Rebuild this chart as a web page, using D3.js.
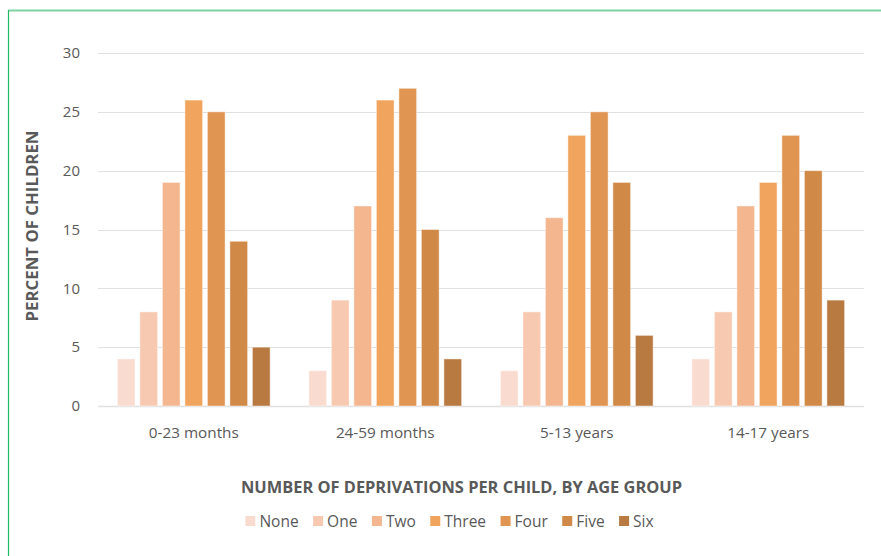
<!DOCTYPE html>
<html>
<head>
<meta charset="utf-8">
<script src="https://cdn.jsdelivr.net/npm/d3@7"></script>
<style>
  html, body { margin: 0; padding: 0; background: #fff; }
  svg { display: block; font-family: "Open Sans", "Noto Sans", sans-serif; }
</style>
</head>
<body>
<svg id="chart" width="881" height="556"></svg>
<script>
// Age groups along the x axis
const ageGroups = ["0-23 months", "24-59 months", "5-13 years", "14-17 years"];
// Number of deprivations (one bar per count inside each group)
const deprivations = ["None", "One", "Two", "Three", "Four", "Five", "Six"];
// Percent of children, one array per deprivation count, in age-group order
const noneValues  = [4, 3, 3, 4];
const oneValues   = [8, 9, 8, 8];
const twoValues   = [19, 17, 16, 17];
const threeValues = [26, 26, 23, 19];
const fourValues  = [25, 27, 25, 23];
const fiveValues  = [14, 15, 19, 20];
const sixValues   = [5, 4, 6, 9];
const yTicks = [0, 5, 10, 15, 20, 25, 30];
const colors = ["#f9dccf", "#f8c9b1", "#f3b68f", "#f1a45d", "#e09552", "#d08947", "#b97a41"];

const seriesValues = [noneValues, oneValues, twoValues, threeValues, fourValues, fiveValues, sixValues];

const svg = d3.select("#chart");

// Outer frame lines
svg.append("line").attr("x1", 8.5).attr("x2", 881).attr("y1", 10.5).attr("y2", 10.5)
  .attr("stroke", "#7fd3a3").attr("stroke-width", 2);
svg.append("line").attr("x1", 8.5).attr("x2", 8.5).attr("y1", 10).attr("y2", 556)
  .attr("stroke", "#1fb862").attr("stroke-width", 1.2);

const plot = { left: 98, right: 864, top: 53, bottom: 406 };

const y = d3.scaleLinear().domain([0, 30]).range([plot.bottom, plot.top]);
const x0 = d3.scaleBand().domain(ageGroups).range([plot.left, plot.right])
  .paddingInner(0.1775).paddingOuter(0.08875);
const x1 = d3.scaleBand().domain(deprivations).range([0, x0.bandwidth()])
  .paddingInner(0.213).paddingOuter(0.1065);

// Horizontal gridlines
svg.append("g").selectAll("line").data(yTicks).join("line")
  .attr("x1", plot.left).attr("x2", plot.right)
  .attr("y1", d => Math.round(y(d)) + 0.5).attr("y2", d => Math.round(y(d)) + 0.5)
  .attr("stroke", "#e0e0e0").attr("stroke-width", d => d === 0 ? 1.6 : 1.2);

// Y axis tick labels
const yAxis = d3.axisLeft(y).tickValues(yTicks).tickSize(0).tickPadding(0);
svg.append("g").attr("transform", `translate(80,0)`).call(yAxis)
  .call(g => g.select(".domain").remove())
  .call(g => g.selectAll("text").attr("fill", "#595959").attr("font-size", 15)
    .attr("font-family", "'Open Sans', sans-serif"));

// Bars
const groups = svg.append("g").selectAll("g").data(ageGroups).join("g")
  .attr("transform", d => `translate(${x0(d)},0)`);
groups.selectAll("rect")
  .data((g, gi) => deprivations.map((k, ki) => ({ key: k, ki, value: seriesValues[ki][gi] })))
  .join("rect")
  .attr("x", d => x1(d.key))
  .attr("width", x1.bandwidth())
  .attr("y", d => y(d.value))
  .attr("height", d => y(0) - y(d.value))
  .attr("fill", d => colors[d.ki])
  .attr("stroke", "#ffffff").attr("stroke-opacity", 0.45).attr("stroke-width", 1);

// X axis category labels
const xAxis = d3.axisBottom(x0).tickSize(0).tickPadding(0);
svg.append("g").attr("transform", `translate(0,${plot.bottom + 21})`).call(xAxis)
  .call(g => g.select(".domain").remove())
  .call(g => g.selectAll("text").attr("fill", "#595959").attr("font-size", 15.3)
    .attr("font-family", "'Open Sans', sans-serif"));

// Axis titles
svg.append("text").attr("x", 461.5).attr("y", 493).attr("text-anchor", "middle")
  .attr("font-size", 16.4).attr("font-weight", "bold").attr("fill", "#595959")
  .text("NUMBER OF DEPRIVATIONS PER CHILD, BY AGE GROUP");
svg.append("text").attr("transform", "translate(38,226) rotate(-90)").attr("text-anchor", "middle")
  .attr("font-size", 16.8).attr("font-weight", "bold").attr("fill", "#595959")
  .text("PERCENT OF CHILDREN");

// Legend
const legend = svg.append("g");
let lx = 0;
deprivations.forEach((k, i) => {
  const item = legend.append("g").attr("transform", `translate(${lx},0)`);
  item.append("rect").attr("x", 0).attr("y", -5).attr("width", 10).attr("height", 10).attr("fill", colors[i]);
  const t = item.append("text").attr("x", 14).attr("y", 5.8).attr("font-size", 15.5).attr("fill", "#595959").text(k);
  lx += 14 + t.node().getComputedTextLength() + 14.5;
});
const legendWidth = lx - 14.5;
legend.attr("transform", `translate(${449.5 - legendWidth / 2},521)`);
</script>
</body>
</html>
